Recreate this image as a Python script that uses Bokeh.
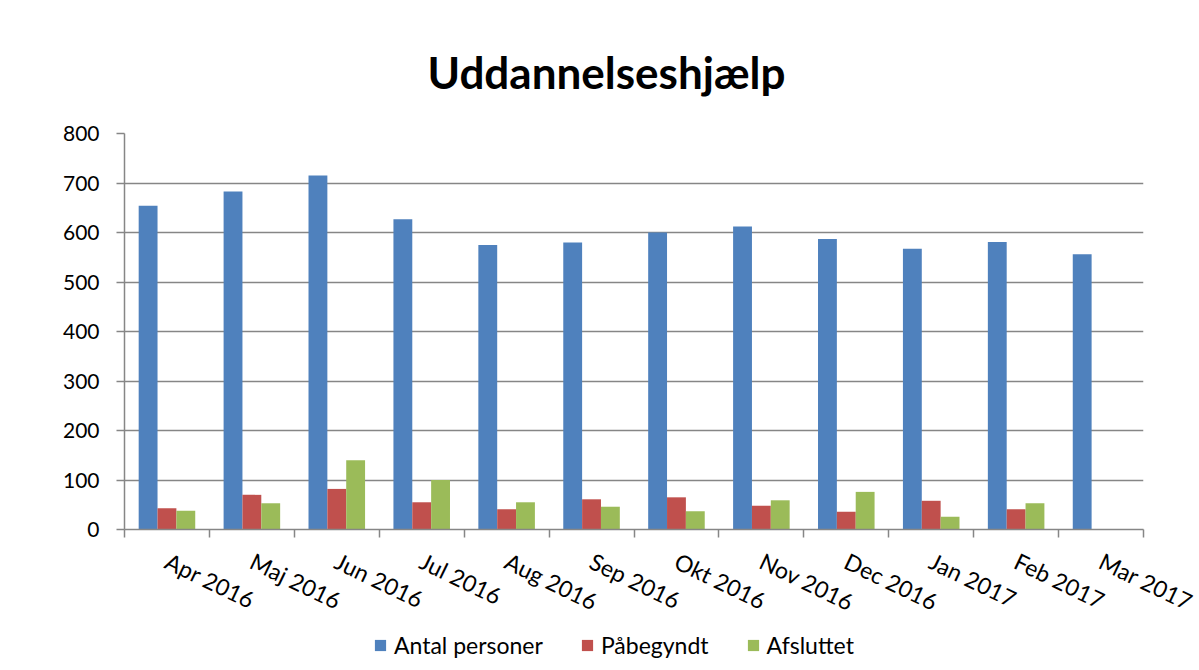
from bokeh.plotting import figure
from bokeh.layouts import column
from bokeh.models import ColumnDataSource, FixedTicker, Legend, LegendItem
from bokeh.embed import file_html
from bokeh.resources import INLINE

months = ["Apr 2016", "Maj 2016", "Jun 2016", "Jul 2016", "Aug 2016", "Sep 2016",
          "Okt 2016", "Nov 2016", "Dec 2016", "Jan 2017", "Feb 2017", "Mar 2017"]
antal = [654, 683, 715, 627, 575, 580, 600, 612, 587, 567, 581, 556]
paabegyndt = [43, 70, 82, 55, 41, 61, 65, 48, 36, 58, 41, float("nan")]
afsluttet = [38, 53, 140, 100, 55, 46, 37, 59, 76, 26, 53, float("nan")]
y_ticks = [0, 100, 200, 300, 400, 500, 600, 700, 800]
series_names = ["Antal personer", "Påbegyndt", "Afsluttet"]
colors = ["#4F81BD", "#C0504D", "#9BBB59"]

FONT = "Lato"
GRID = "#868686"
W, H1, H2 = 1199, 631, 38

idx = list(range(len(months)))
bw = 0.222
src = ColumnDataSource(dict(
    x=idx,
    xa=[i - bw for i in idx],
    xb=[i + bw for i in idx],
    antal=antal, paa=paabegyndt, afs=afsluttet,
))

p = figure(width=W, height=H1, output_backend="svg", toolbar_location=None,
           x_range=(-0.5, len(months) - 0.5), y_range=(0, 800),
           min_border_left=124, min_border_right=W - 1143, min_border_top=133,
           min_border_bottom=H1 - 529)

p.vbar(x="xa", top="antal", width=bw, source=src, color=colors[0], line_color=None)
p.vbar(x="x", top="paa", width=bw, source=src, color=colors[1], line_color=None)
p.vbar(x="xb", top="afs", width=bw, source=src, color=colors[2], line_color=None)

p.title.text = "Uddannelseshjælp"
p.title.align = "left"
p.title.offset = 303
p.title.text_font = FONT
p.title.text_font_size = "44px"
p.title.text_font_style = "bold"
p.title.text_color = "#000000"
p.title.standoff = 72

p.outline_line_color = None
p.xgrid.visible = False
p.ygrid.grid_line_color = GRID
p.ygrid.grid_line_width = 1.5
p.yaxis.ticker = FixedTicker(ticks=y_ticks)
p.ygrid.ticker = FixedTicker(ticks=y_ticks)
p.yaxis.axis_line_color = GRID
p.yaxis.axis_line_width = 1.5
p.yaxis.major_tick_line_color = GRID
p.yaxis.major_tick_line_width = 1.5
p.yaxis.major_tick_out = 8
p.yaxis.major_tick_in = 0
p.yaxis.minor_tick_line_color = None
p.yaxis.major_label_text_font = FONT
p.yaxis.major_label_text_font_size = "21px"
p.yaxis.major_label_text_color = "#000000"
p.yaxis.major_label_standoff = 17

p.xaxis.ticker = FixedTicker(ticks=idx, minor_ticks=[i - 0.5 for i in range(len(months) + 1)])
p.xaxis.major_label_overrides = {i: m for i, m in zip(idx, months)}
p.xaxis.major_tick_line_color = None
p.xaxis.major_tick_out = 0
p.xaxis.major_tick_in = 0
p.xaxis.minor_tick_line_color = GRID
p.xaxis.minor_tick_line_width = 1.5
p.xaxis.minor_tick_out = 8
p.xaxis.minor_tick_in = 0
p.xaxis.axis_line_color = GRID
p.xaxis.axis_line_width = 1.5
p.xaxis.major_label_orientation = -0.45
p.xaxis.major_label_text_font = FONT
p.xaxis.major_label_text_font_size = "23px"
p.xaxis.major_label_text_color = "#000000"
p.xaxis.major_label_standoff = 22

# legend strip below the chart
pl = figure(width=W, height=H2, output_backend="svg", toolbar_location=None,
            x_range=(-0.5, len(months) - 0.5), y_range=(-1000, -900),
            x_axis_location=None, y_axis_location=None,
            min_border_left=0, min_border_right=0, min_border_top=0, min_border_bottom=0)
pl.outline_line_color = None
pl.grid.visible = False
l1 = pl.vbar(x="xa", top="antal", width=bw, source=src, color=colors[0], line_color=None, visible=False)
l2 = pl.vbar(x="x", top="paa", width=bw, source=src, color=colors[1], line_color=None, visible=False)
l3 = pl.vbar(x="xb", top="afs", width=bw, source=src, color=colors[2], line_color=None, visible=False)

legend = Legend(items=[
    LegendItem(label=series_names[0], renderers=[l1]),
    LegendItem(label=series_names[1], renderers=[l2]),
    LegendItem(label=series_names[2], renderers=[l3]),
], orientation="horizontal", location=(249, 10))
legend.label_text_font = FONT
legend.label_text_font_size = "23px"
legend.label_text_color = "#000000"
legend.glyph_width = 14
legend.glyph_height = 14
legend.spacing = 37
legend.label_standoff = 7
legend.border_line_color = None
legend.background_fill_alpha = 0
legend.inactive_fill_alpha = 0
legend.margin = 0
legend.padding = 0
legend.click_policy = "none"
pl.add_layout(legend)

layout = column(p, pl, spacing=0)
open("out.html", "w").write(file_html(layout, INLINE))
